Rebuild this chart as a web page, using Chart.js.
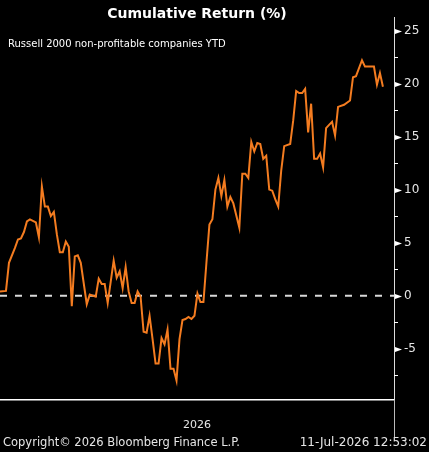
<!DOCTYPE html>
<html>
<head>
<meta charset="utf-8">
<script src="https://cdn.jsdelivr.net/npm/chart.js@4.4.1/dist/chart.umd.min.js"></script>
<style>
  html, body { margin: 0; padding: 0; background: #000; }
  #wrap { width: 429px; height: 452px; position: relative; }
</style>
</head>
<body>
<div id="wrap"><canvas id="chart"></canvas></div>
<script>
// Russell 2000 non-profitable companies, cumulative return YTD (%)
// trading-day index since the start of the year
const days = [0, 2, 3, 5, 6, 7, 8, 9, 10, 12, 13, 14, 15, 16, 17, 18, 19, 20, 21, 22,
  23, 24, 25, 26, 27, 29, 30, 32, 33, 34, 35, 36, 37, 38, 39, 40, 41, 42, 43, 44,
  45, 46, 47, 48, 49, 50, 51, 52, 53, 54, 55, 56, 57, 58, 59, 60, 61, 62, 63, 64,
  65, 66, 67, 68, 69, 70, 71, 72, 73, 74, 75, 76, 77, 78, 80, 81, 82, 83, 84, 85,
  86, 87, 88, 89, 90, 91, 92, 93, 94, 95, 97, 98, 99, 100, 101, 102, 103, 104, 105, 106,
  107, 108, 109, 110, 111, 112, 113, 115, 117, 118, 119, 121, 122, 125, 126, 127, 128];
const returns = [0.4, 0.45, 3.1, 4.5, 5.3, 5.4, 6.0, 7.0, 7.2, 6.9, 5.5, 10.3, 8.4, 8.4, 7.5, 7.9, 5.8, 4.1, 4.1, 5.1,
  4.6, -1.0, 3.7, 3.8, 3.1, -0.8, 0.1, -0.1, 1.6, 1.1, 1.1, -0.7, 1.3, 3.3, 1.7, 2.3, 0.7, 2.7, 0.4, -0.7,
  -0.7, 0.4, -0.1, -3.4, -3.5, -1.9, -4.1, -6.4, -6.4, -4.0, -4.6, -3.2, -6.9, -6.9, -8.0, -4.1, -2.3, -2.2, -2.0, -2.2,
  -1.9, 0.2, -0.6, -0.6, 3.1, 6.7, 7.2, 10.0, 11.1, 9.4, 10.9, 8.4, 9.3, 8.7, 6.4, 11.5, 11.5, 11.1, 14.5, 13.6,
  14.4, 14.3, 12.9, 13.2, 10.0, 9.9, 9.1, 8.4, 11.8, 14.1, 14.3, 16.5, 19.3, 19.1, 19.1, 19.5, 15.4, 18.1, 12.9, 12.9,
  13.4, 12.1, 15.8, 16.1, 16.4, 15.1, 17.8, 18.0, 18.4, 20.6, 20.7, 22.2, 21.6, 21.6, 19.9, 21.0, 19.7];

const yTicks = [-5, 0, 5, 10, 15, 20, 25];
const yMin = -9.84;
const yMax = 26.26;
const xMax = 131.7;

const title = 'Cumulative Return (%)';
const subtitle = 'Russell 2000 non-profitable companies YTD';
const yearLabel = '2026';
const copyright = 'Copyright\u00a9 2026 Bloomberg Finance L.P.';
const stamp = '11-Jul-2026 12:53:02';

const orange = '#f47c20';
const font = '"DejaVu Sans", sans-serif';

// axis marks and the texts around the plot
const decor = {
  id: 'decor',
  afterDraw(chart) {
    const { ctx, chartArea: a, scales: { y } } = chart;
    ctx.save();
    ctx.fillStyle = '#fff';
    ctx.strokeStyle = '#fff';
    ctx.lineWidth = 1;
    y.ticks.forEach(t => {
      const py = Math.round(y.getPixelForValue(t.value)) + 0.5;
      if (yTicks.includes(t.value)) {
        ctx.beginPath();
        ctx.moveTo(a.right + 1, py - 2.5);
        ctx.lineTo(a.right + 8, py);
        ctx.lineTo(a.right + 1, py + 2.5);
        ctx.closePath();
        ctx.fill();
      } else {
        ctx.beginPath();
        ctx.moveTo(a.right, py);
        ctx.lineTo(a.right + 4, py);
        ctx.stroke();
      }
    });
    // year boundary mark under the axis
    ctx.strokeStyle = '#bbb';
    ctx.beginPath();
    ctx.moveTo(a.right + 0.5, a.bottom);
    ctx.lineTo(a.right + 0.5, a.bottom + 37);
    ctx.stroke();

    ctx.textBaseline = 'middle';
    ctx.textAlign = 'center';
    ctx.font = 'bold 14px ' + font;
    ctx.fillText(title, (a.left + a.right) / 2, 14);
    ctx.font = '11px ' + font;
    ctx.fillStyle = '#e6e6e6';
    ctx.fillText(yearLabel, (a.left + a.right) / 2, 425);
    ctx.textAlign = 'left';
    ctx.font = '10px ' + font;
    ctx.fillStyle = '#fff';
    ctx.fillText(subtitle, 8, 44);
    ctx.font = '11.5px ' + font;
    ctx.fillStyle = '#e6e6e6';
    ctx.fillText(copyright, 3, 443);
    ctx.textAlign = 'right';
    ctx.font = '12px ' + font;
    ctx.fillText(stamp, 427, 443);
    ctx.restore();
  }
};

new Chart(document.getElementById('chart'), {
  type: 'line',
  data: {
    datasets: [
      {
        data: days.map((d, i) => ({ x: d, y: returns[i] })),
        borderColor: orange,
        borderWidth: 2,
        pointRadius: 0,
        tension: 0,
        order: 1
      },
      {
        data: [{ x: 0, y: 0 }, { x: xMax, y: 0 }],
        borderColor: '#d9d9d9',
        borderWidth: 2,
        borderDash: [7, 8],
        pointRadius: 0,
        order: 2
      }
    ]
  },
  options: {
    responsive: true,
    maintainAspectRatio: false,
    animation: false,
    layout: { padding: { left: 0, right: 0, top: 0, bottom: 52 } },
    plugins: {
      legend: { display: false },
      tooltip: { enabled: false }
    },
    scales: {
      x: {
        type: 'linear',
        min: 0,
        max: xMax,
        ticks: { display: false },
        grid: { display: true, drawOnChartArea: false, drawTicks: false },
        border: { color: '#fff', width: 1.5 },
        afterFit(scale) { scale.height = 0; }
      },
      y: {
        position: 'right',
        min: yMin,
        max: yMax,
        ticks: {
          stepSize: 2.5,
          includeBounds: false,
          padding: 10,
          color: '#e6e6e6',
          font: { family: 'DejaVu Sans', size: 12 },
          callback: v => (yTicks.includes(v) ? String(v) : '')
        },
        grid: { display: true, drawOnChartArea: false, drawTicks: false },
        border: { color: '#ddd', width: 1 },
        afterFit(scale) { scale.width = 35; }
      }
    }
  },
  plugins: [decor]
});
</script>
</body>
</html>
